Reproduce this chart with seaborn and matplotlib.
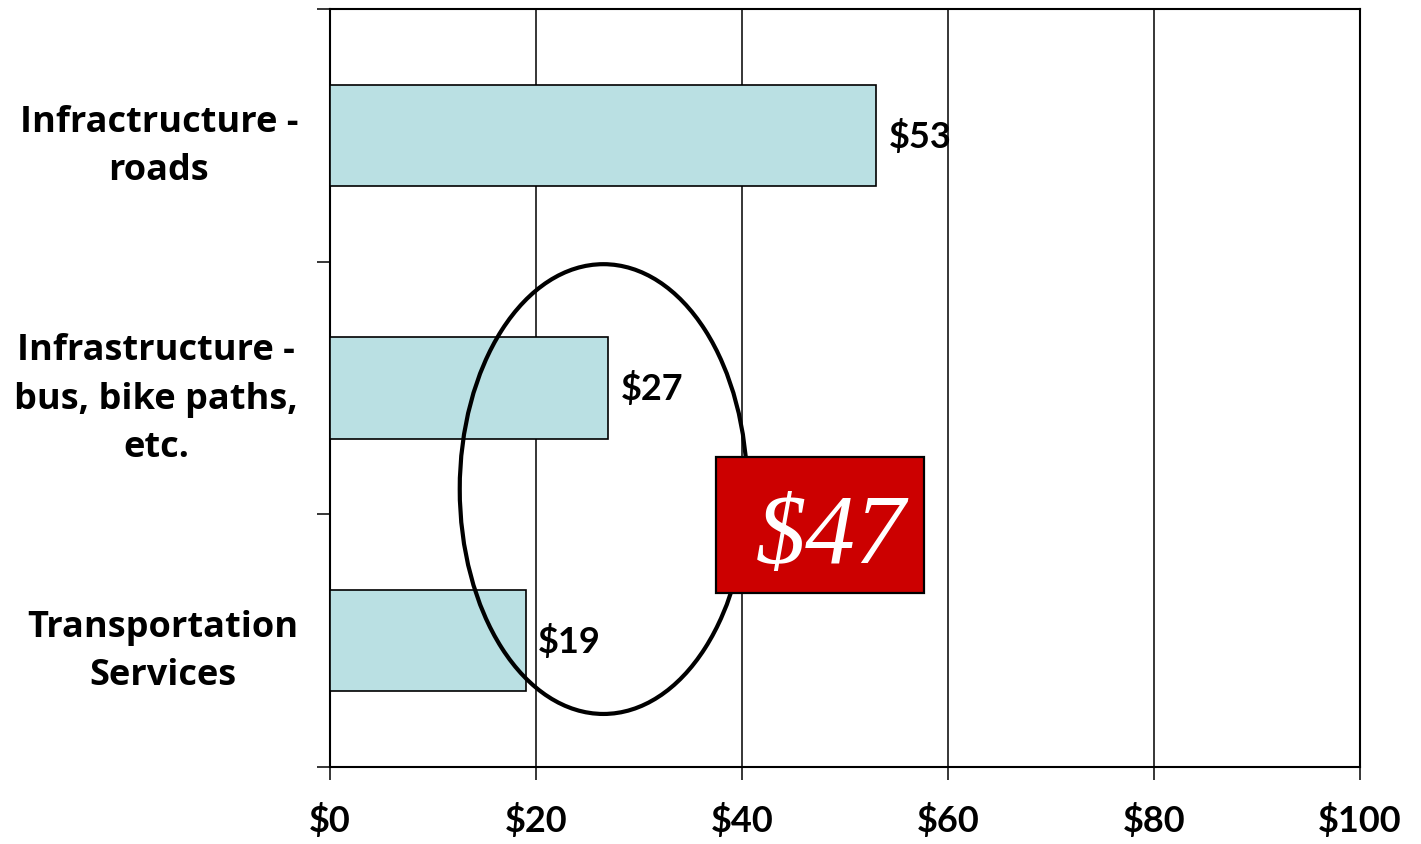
import matplotlib
matplotlib.use("Agg")
import matplotlib.pyplot as plt
from matplotlib.patches import Ellipse, Rectangle
import seaborn as sns
import pandas as pd

# Spending per category (dollars)
categories = ["Infractructure -\nroads",
              "Infrastructure -\nbus, bike paths,\netc.",
              "Transportation\nServices"]
values = [53, 27, 19]
x_ticks = [0, 20, 40, 60, 80, 100]
x_tick_labels = ["$0", "$20", "$40", "$60", "$80", "$100"]
highlight_total = "$47"

sns.set_theme(style="white")
plt.rcParams["font.family"] = ["Lato", "DejaVu Sans"]
plt.rcParams["text.color"] = "black"
plt.rcParams["xtick.color"] = "black"
plt.rcParams["ytick.color"] = "black"

df = pd.DataFrame({"category": categories, "value": values})

fig = plt.figure(figsize=(14.21, 8.45), dpi=100)
ax = fig.add_axes([0.2322, 0.0911, 0.9571 - 0.2322, 0.9882 - 0.0911])

sns.barplot(data=df, x="value", y="category", orient="h", color="#BAE0E3",
            saturation=1, width=0.4, edgecolor="black", linewidth=1.2,
            ax=ax, zorder=3)

ax.set_xlim(0, 100)
ax.set_ylim(2.5, -0.5)
ax.set_xlabel("")
ax.set_ylabel("")

# vertical gridlines
ax.set_xticks(x_ticks)
ax.set_xticklabels(x_tick_labels, fontsize=26, fontweight="bold", color="black")
ax.xaxis.grid(True, color="black", linewidth=1.1)
ax.set_axisbelow(True)

# category labels; ticks sit on the band boundaries
ax.set_yticks(range(len(categories)))
ax.set_yticklabels(categories, fontsize=26, fontweight="bold", color="black",
                   family=["Open Sans", "DejaVu Sans"],
                   multialignment="center", linespacing=1.45)
ax.set_yticks([-0.5, 0.5, 1.5, 2.5], minor=True)
ax.tick_params(axis="y", which="major", length=0, pad=23)
ax.tick_params(axis="y", which="minor", length=9.5, width=1.1,
               color="black", direction="out", left=True)
ax.tick_params(axis="x", which="major", length=9.5, width=1.1,
               color="black", direction="out", bottom=True, pad=16)

for side in ["left", "right", "top", "bottom"]:
    ax.spines[side].set_visible(True)
    ax.spines[side].set_color("black")
    ax.spines[side].set_linewidth(1.5)

# value labels next to each bar
for container in ax.containers:
    ax.bar_label(container, fmt="${:.0f}", padding=9, fontsize=26,
                 fontweight="bold", color="black", zorder=5)

# ellipse grouping the two non-road categories
ax.add_patch(Ellipse((26.55, 1.40), 27.9, 1.78, fill=False,
                     edgecolor="black", linewidth=3.0, zorder=6,
                     clip_on=False))

# highlighted combined total
ax.add_patch(Rectangle((37.5, 1.273), 20.2, 0.538, facecolor="#CC0000",
                       edgecolor="black", linewidth=1.6, zorder=7))
ax.text(48.6, 1.689, highlight_total, ha="center", va="baseline",
        fontsize=72, fontstyle="italic", color="white",
        family=["Liberation Serif", "DejaVu Serif"], zorder=8)

fig.savefig("out.png", dpi=100)
